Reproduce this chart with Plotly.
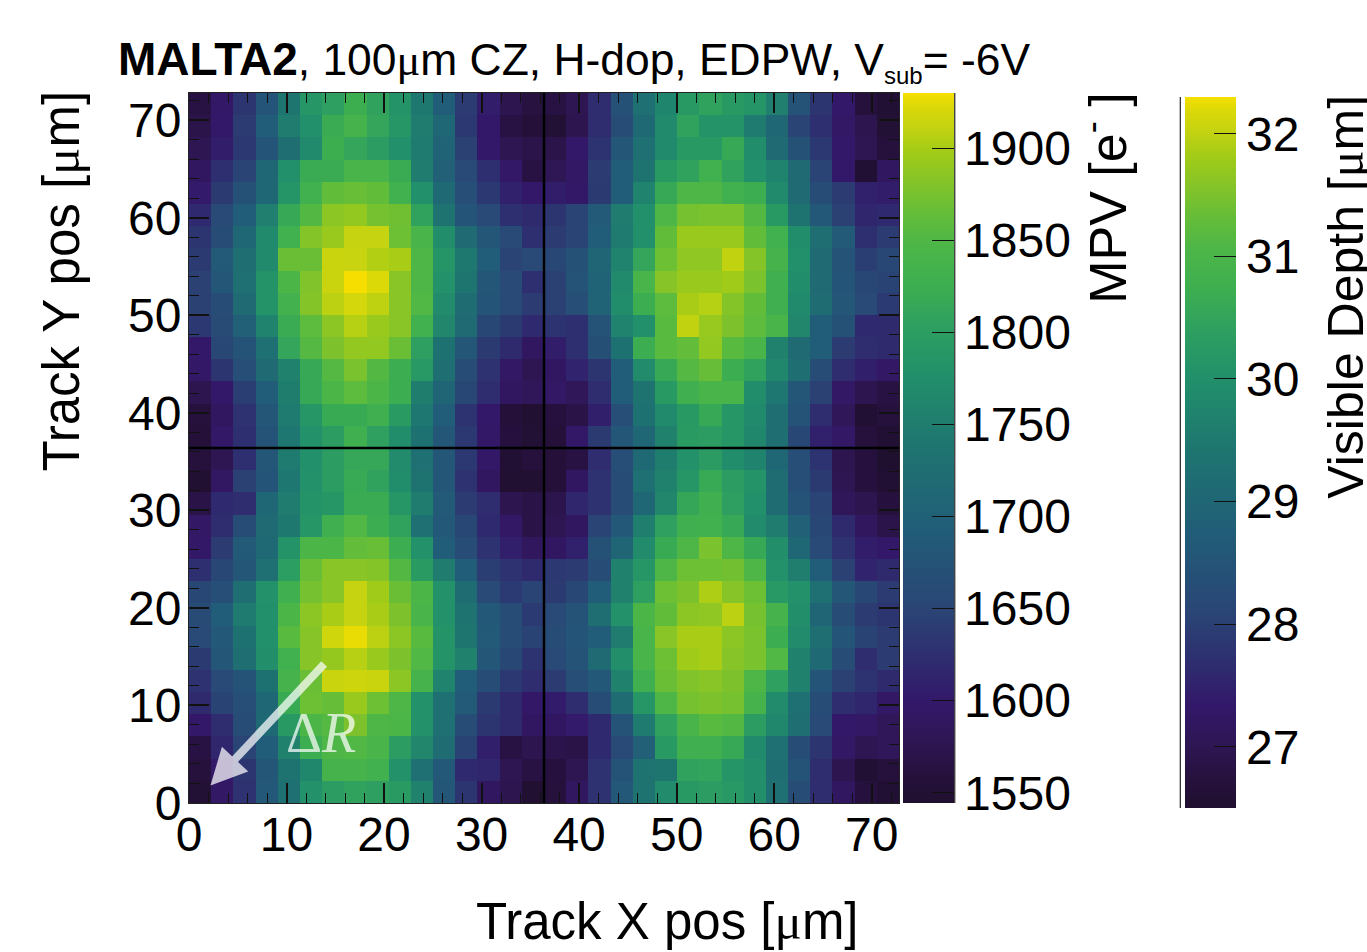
import numpy as np
import plotly.graph_objects as go

# ---- data ----
bin_width = 2.275
x_centers = [bin_width * (i + 0.5) for i in range(32)]
y_centers = [bin_width * (i + 0.5) for i in range(32)]
x_ticks = [0, 10, 20, 30, 40, 50, 60, 70]
y_ticks = [0, 10, 20, 30, 40, 50, 60, 70]
pixel_edge = 36.4
mpv_range = [1544.4, 1930]
depth_range = [26.5, 32.3]
mpv_ticks = [1550, 1600, 1650, 1700, 1750, 1800, 1850, 1900]
depth_ticks = [27, 28, 29, 30, 31, 32]

# cell colour levels, rows from y=0 upward
mpv_rows = [
 [1552,1595,1628,1675,1708,1757,1775,1785,1780,1772,1733,1672,1632,1590,1575,1548,1558,1590,1628,1675,1712,1748,1770,1775,1768,1752,1708,1660,1622,1590,1560,1550],
 [1558,1600,1632,1672,1712,1742,1815,1815,1810,1757,1708,1675,1620,1615,1578,1565,1560,1578,1628,1668,1712,1715,1785,1788,1762,1752,1705,1668,1622,1575,1550,1558],
 [1565,1615,1650,1680,1733,1803,1825,1828,1820,1775,1740,1702,1648,1608,1565,1575,1572,1568,1620,1655,1685,1770,1808,1808,1795,1745,1708,1660,1632,1595,1578,1585],
 [1600,1622,1660,1698,1770,1822,1832,1860,1825,1822,1757,1708,1660,1632,1618,1592,1592,1602,1620,1668,1722,1783,1820,1835,1830,1775,1742,1705,1655,1600,1595,1585],
 [1618,1648,1662,1695,1798,1850,1845,1880,1850,1825,1757,1708,1678,1637,1618,1598,1603,1622,1660,1702,1765,1825,1855,1860,1855,1815,1748,1708,1660,1622,1615,1595],
 [1628,1655,1668,1710,1815,1848,1908,1910,1908,1870,1815,1735,1680,1660,1635,1622,1640,1662,1675,1733,1808,1848,1862,1868,1860,1825,1782,1733,1670,1645,1630,1618],
 [1637,1672,1705,1752,1810,1866,1876,1898,1880,1860,1828,1760,1733,1672,1652,1630,1655,1668,1700,1752,1820,1850,1885,1890,1866,1858,1828,1733,1698,1660,1622,1640],
 [1655,1675,1710,1755,1835,1866,1912,1925,1900,1870,1835,1760,1715,1678,1660,1648,1660,1670,1680,1725,1820,1868,1890,1890,1870,1858,1803,1748,1705,1670,1648,1640],
 [1658,1682,1722,1755,1822,1870,1890,1905,1890,1860,1820,1757,1712,1675,1660,1638,1655,1668,1705,1757,1822,1842,1870,1873,1900,1855,1815,1752,1692,1660,1640,1632],
 [1652,1662,1705,1757,1808,1855,1868,1905,1885,1848,1822,1757,1702,1655,1638,1650,1637,1652,1682,1733,1780,1850,1860,1892,1866,1850,1768,1757,1708,1672,1652,1640],
 [1625,1652,1672,1708,1778,1848,1868,1868,1865,1830,1772,1725,1682,1642,1628,1618,1635,1640,1660,1733,1765,1825,1850,1850,1853,1825,1757,1728,1682,1645,1612,1618],
 [1597,1640,1678,1698,1760,1822,1822,1843,1847,1803,1757,1682,1660,1628,1608,1588,1592,1610,1665,1692,1748,1798,1825,1858,1825,1795,1752,1695,1655,1628,1605,1600],
 [1595,1622,1660,1700,1720,1765,1808,1828,1803,1785,1708,1675,1652,1620,1595,1568,1578,1590,1650,1675,1728,1782,1808,1810,1795,1748,1725,1685,1652,1618,1588,1570],
 [1568,1620,1622,1695,1725,1760,1765,1800,1800,1765,1725,1678,1640,1622,1575,1568,1573,1615,1628,1660,1695,1740,1792,1808,1780,1755,1703,1668,1650,1585,1575,1560],
 [1548,1593,1645,1670,1718,1757,1775,1797,1785,1750,1712,1672,1628,1590,1548,1548,1555,1592,1628,1660,1708,1733,1765,1797,1775,1760,1702,1662,1637,1578,1560,1550],
 [1558,1578,1625,1672,1722,1755,1775,1793,1793,1748,1708,1672,1635,1597,1550,1558,1555,1565,1622,1662,1698,1727,1757,1773,1750,1735,1695,1662,1630,1575,1560,1545],
 [1555,1596,1625,1668,1718,1757,1775,1808,1782,1750,1710,1672,1635,1598,1560,1552,1555,1598,1637,1672,1695,1733,1772,1775,1765,1742,1705,1652,1610,1595,1558,1550],
 [1558,1590,1628,1672,1722,1765,1798,1798,1808,1772,1718,1682,1630,1600,1555,1548,1560,1568,1608,1662,1710,1745,1770,1795,1765,1745,1705,1668,1622,1585,1550,1558],
 [1575,1600,1642,1682,1727,1795,1822,1838,1822,1803,1727,1692,1652,1622,1590,1585,1595,1585,1622,1680,1712,1770,1808,1820,1820,1750,1718,1672,1645,1595,1575,1565],
 [1598,1632,1662,1700,1733,1795,1832,1858,1830,1803,1768,1705,1660,1628,1595,1578,1592,1612,1632,1680,1748,1795,1832,1846,1803,1785,1742,1705,1660,1622,1608,1595],
 [1600,1652,1668,1708,1790,1832,1860,1875,1875,1848,1780,1710,1672,1637,1618,1590,1605,1625,1663,1710,1803,1835,1843,1875,1835,1820,1733,1700,1680,1640,1622,1618],
 [1635,1658,1685,1735,1800,1838,1870,1897,1880,1868,1810,1740,1700,1652,1637,1620,1630,1625,1668,1735,1755,1835,1903,1878,1860,1838,1820,1740,1680,1665,1620,1618],
 [1645,1660,1700,1760,1812,1865,1900,1915,1902,1868,1828,1748,1702,1670,1655,1640,1645,1662,1690,1750,1803,1838,1890,1897,1865,1842,1808,1745,1702,1672,1655,1638],
 [1645,1672,1708,1760,1822,1862,1908,1930,1920,1868,1825,1757,1715,1672,1655,1625,1645,1668,1690,1745,1820,1866,1880,1880,1885,1858,1808,1750,1700,1670,1652,1648],
 [1637,1678,1705,1745,1848,1848,1908,1907,1895,1890,1825,1762,1720,1680,1650,1655,1652,1665,1692,1735,1790,1850,1873,1873,1903,1865,1815,1755,1700,1668,1642,1652],
 [1632,1660,1695,1745,1810,1865,1880,1905,1905,1850,1820,1750,1700,1672,1655,1625,1640,1650,1680,1722,1755,1842,1880,1880,1880,1842,1810,1750,1705,1678,1625,1640],
 [1620,1655,1680,1730,1795,1830,1870,1875,1855,1852,1785,1712,1670,1655,1625,1618,1632,1650,1678,1725,1755,1825,1855,1858,1858,1830,1770,1712,1675,1645,1615,1620],
 [1602,1637,1665,1695,1762,1810,1842,1847,1842,1810,1755,1698,1662,1635,1610,1600,1605,1597,1637,1682,1735,1795,1825,1825,1810,1803,1745,1700,1660,1640,1610,1605],
 [1590,1625,1650,1695,1755,1800,1800,1820,1820,1800,1725,1685,1655,1625,1598,1565,1580,1595,1640,1680,1712,1770,1785,1810,1785,1755,1735,1700,1650,1600,1550,1590],
 [1578,1605,1635,1670,1705,1745,1805,1790,1775,1755,1722,1690,1645,1600,1578,1570,1570,1600,1630,1672,1708,1745,1770,1770,1795,1750,1700,1665,1635,1600,1578,1558],
 [1570,1600,1640,1680,1725,1755,1800,1815,1790,1765,1725,1695,1635,1600,1565,1555,1552,1575,1622,1660,1698,1745,1785,1760,1760,1722,1695,1650,1625,1595,1575,1552],
 [1565,1597,1632,1670,1715,1765,1780,1805,1785,1760,1720,1680,1640,1605,1575,1562,1565,1578,1622,1665,1708,1738,1770,1785,1770,1762,1730,1668,1632,1600,1558,1550],
]

# colour stops: the level each colour was read at, and the MPV the colour bar gives it
stop_colors = ["#20102f", "#241038", "#2f1655", "#33186a", "#2e2f70", "#2a4575", "#215c78", "#1e7570",
               "#22906a", "#2e9f60", "#3dae50", "#4db647", "#65bd38", "#85c428", "#a0cb18", "#c5d310",
               "#dcd908", "#f6df00"]
stop_levels = [1545, 1555, 1580, 1600, 1625, 1650, 1680, 1715, 1755, 1780, 1805, 1825, 1845, 1865, 1885, 1905, 1920, 1930]
stop_mpv = [1544.4, 1555, 1580, 1600, 1625, 1650, 1692, 1738, 1778, 1803, 1825, 1848, 1865, 1882, 1897, 1912, 1923, 1930]

mpv_z = np.interp(np.array(mpv_rows, dtype=float), stop_levels, stop_mpv)
colorscale = [[(m - stop_mpv[0]) / (stop_mpv[-1] - stop_mpv[0]), c] for m, c in zip(stop_mpv, stop_colors)]

FONT = "Liberation Sans"
W, H = 1367, 952
L, R, T, B = 188.5, 899.0, 93.0, 803.0
TICK = 48
MU = '<span style="font-family:Liberation Serif">μ</span>'

def fx(px):
    return (px - L) / (R - L)

def fy(py):
    return (B - py) / (B - T)

fig = go.Figure()

# depth scale carrier, fully covered by the MPV map
fig.add_trace(go.Heatmap(
    z=[[depth_range[0], depth_range[1]]], x=[10, 20], y=[10],
    coloraxis="coloraxis2", hoverinfo="skip",
))
fig.add_trace(go.Heatmap(
    z=mpv_z, x=x_centers, y=y_centers, coloraxis="coloraxis", zsmooth=False,
))

def cbar(x_px, bottom_px, length, thick, tickvals):
    return dict(
        xref="paper", yref="paper",
        x=fx(x_px), xanchor="left", xpad=0,
        y=fy(bottom_px), yanchor="bottom", ypad=0,
        lenmode="pixels", len=length, thicknessmode="pixels", thickness=thick,
        outlinewidth=0, borderwidth=0,
        ticks="inside", ticklen=22, tickwidth=1, tickcolor="#111",
        tickvals=tickvals, ticktext=[str(t) for t in tickvals],
        tickfont=dict(family=FONT, size=TICK, color="black"),
    )

axis_common = dict(
    showgrid=False, zeroline=False, showline=True, linecolor="#222", linewidth=1,
    mirror="ticks", ticks="inside", ticklen=20, tickwidth=1.5, tickcolor="#111",
    tickfont=dict(family=FONT, size=TICK, color="black"),
    minor=dict(dtick=2, ticks="inside", ticklen=10, tickwidth=1.2, tickcolor="#111", showgrid=False),
    range=[0, 72.8],
)

shapes = [
    dict(type="line", xref="x", yref="y", x0=pixel_edge, x1=pixel_edge, y0=0, y1=72.8,
         line=dict(color="black", width=2.5)),
    dict(type="line", xref="x", yref="y", x0=0, x1=72.8, y0=pixel_edge, y1=pixel_edge,
         line=dict(color="black", width=2.5)),
    dict(type="line", xref="paper", yref="paper", x0=fx(954.8), x1=fx(954.8), y0=fy(803), y1=fy(93),
         line=dict(color="#222", width=1.2)),
    dict(type="line", xref="paper", yref="paper", x0=fx(1235.5), x1=fx(1235.5), y0=fy(808), y1=fy(97),
         line=dict(color="#222", width=1.2)),
    dict(type="line", xref="paper", yref="paper", x0=fx(1180.5), x1=fx(1180.5), y0=fy(808), y1=fy(97),
         line=dict(color="#222", width=1.2)),
]

def text(t, x_px, y_px, size, angle=0, xa="center", ya="middle", color="black", family=FONT):
    return dict(text=t, xref="paper", yref="paper", x=fx(x_px), y=fy(y_px), xanchor=xa, yanchor=ya,
                showarrow=False, textangle=angle, font=dict(family=family, size=size, color=color))

SUB = '<sub><span style="font-size:24px">sub</span></sub>'
TITLE_REST = '<span style="font-size:44.4px">, 100' + MU + 'm CZ, H-dop, EDPW, V' + SUB + '= -6V</span>'
annotations = [
    text("<b>MALTA2</b>" + TITLE_REST, 115, 61.5, 46, xa="left"),
    text("Track X pos [" + MU + "m]", 667, 921, 51),
    text("Track Y pos [" + MU + "m]", 60, 281, 51, angle=-90),
    text("MPV [e<sup>-</sup> ]", 1104, 198, 52, angle=-90),
    text("Visible Depth [" + MU + "m]", 1346, 297, 50, angle=-90),
    text('<span style="font-style:normal">Δ</span><i>R</i>', 321, 733, 56,
         color="rgba(255,255,255,0.72)", family="Liberation Serif"),
    dict(x=2.2, y=1.8, ax=14.0, ay=14.4, xref="x", yref="y", axref="x", ayref="y", text="",
         showarrow=True, arrowhead=2, arrowsize=0.9, arrowwidth=8,
         arrowcolor="rgba(255,255,255,0.72)"),
]

fig.update_layout(
    width=W, height=H, autosize=False,
    margin=dict(l=L, r=W - R, t=T, b=H - B, pad=0, autoexpand=False),
    paper_bgcolor="white", plot_bgcolor="white", showlegend=False,
    xaxis=dict(axis_common, tickvals=x_ticks, ticktext=[str(t) for t in x_ticks], ticklabelstandoff=-11),
    yaxis=dict(axis_common, tickvals=y_ticks, ticktext=[str(t) for t in y_ticks], ticklabelstandoff=-3),
    coloraxis=dict(colorscale=colorscale, cmin=mpv_range[0], cmax=mpv_range[1],
                   colorbar=cbar(903.5, 803, 710, 51, mpv_ticks)),
    coloraxis2=dict(colorscale=colorscale, cmin=depth_range[0], cmax=depth_range[1],
                    colorbar=cbar(1185, 808, 711, 50.5, depth_ticks)),
    shapes=shapes, annotations=annotations,
)

fig.write_html("out.html", config={"displayModeBar": False},
               post_script="document.body.style.margin='0';document.body.style.overflow='hidden';")
